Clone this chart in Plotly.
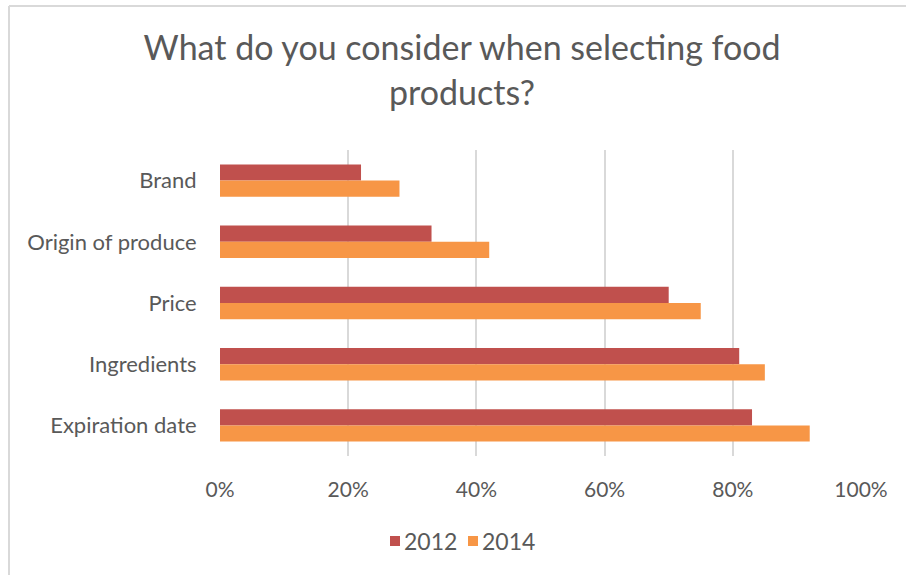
import plotly.graph_objects as go

categories = ["Brand", "Origin of produce", "Price", "Ingredients", "Expiration date"]
values_2012 = [22, 33, 70, 81, 83]
values_2014 = [28, 42, 75, 85, 92]
x_ticks = [0, 20, 40, 60, 80, 100]
x_tick_labels = ["0%", "20%", "40%", "60%", "80%", "100%"]
series_names = ["2012", "2014"]
series_colors = ["#C0504D", "#F79646"]

W, H = 906, 575
L, R, T, B = 220, 45, 150, 119
pw, ph = W - L - R, H - T - B

font_family = "Lato, 'Open Sans', sans-serif"
text_color = "#595959"


def px_to_paper_x(px):
    return (px - L) / pw


def px_to_paper_y(py):
    return (H - B - py) / ph


fig = go.Figure()
for name, vals, color in zip(series_names, [values_2012, values_2014], series_colors):
    fig.add_trace(go.Bar(y=categories, x=vals, name=name, orientation="h",
                         marker=dict(color=color, line=dict(width=0)),
                         showlegend=False))

# Compact legend: colour swatch followed closely by the series name
legend_shapes = []
legend_annotations = []
swatch_left = [390, 468]
for name, color, sx in zip(series_names, series_colors, swatch_left):
    legend_shapes.append(dict(type="rect", xref="paper", yref="paper",
                              x0=px_to_paper_x(sx), x1=px_to_paper_x(sx + 10),
                              y0=px_to_paper_y(536), y1=px_to_paper_y(546),
                              fillcolor=color, line=dict(width=0)))
    legend_annotations.append(dict(text=name, xref="paper", yref="paper",
                                   x=px_to_paper_x(sx + 12), y=px_to_paper_y(541),
                                   xanchor="left", yanchor="middle", showarrow=False,
                                   font=dict(size=23, color=text_color, family=font_family)))

border = [
    dict(type="line", xref="paper", yref="paper",
         x0=px_to_paper_x(9), x1=px_to_paper_x(9),
         y0=px_to_paper_y(6), y1=px_to_paper_y(600),
         line=dict(color="#d9d9d9", width=2)),
    dict(type="line", xref="paper", yref="paper",
         x0=px_to_paper_x(9), x1=px_to_paper_x(920),
         y0=px_to_paper_y(6), y1=px_to_paper_y(6),
         line=dict(color="#d9d9d9", width=2)),
]

fig.update_layout(
    width=W, height=H,
    margin=dict(l=L, r=R, t=T, b=B),
    paper_bgcolor="white", plot_bgcolor="white",
    barmode="group", bargap=0.47, bargroupgap=0,
    font=dict(family=font_family, color=text_color),
    title=dict(text="What do you consider when selecting food<br>products?",
               x=0.51, xanchor="center", y=0.895, yanchor="top",
               font=dict(size=34, color=text_color, family=font_family)),
    xaxis=dict(range=[0, 100], tickvals=x_ticks, ticktext=x_tick_labels,
               showgrid=True, gridcolor="#d9d9d9", gridwidth=2,
               zeroline=False, showline=False, ticks="outside", ticklen=15,
               tickcolor="rgba(0,0,0,0)",
               tickfont=dict(size=21, color=text_color), fixedrange=True),
    yaxis=dict(categoryorder="array", categoryarray=categories,
               autorange="reversed", showgrid=False, zeroline=False,
               showline=False, ticks="outside", ticklen=18,
               tickcolor="rgba(0,0,0,0)",
               tickfont=dict(size=22, color=text_color)),
    showlegend=False,
    shapes=border + legend_shapes,
    annotations=legend_annotations,
)

fig.write_html("out.html")
